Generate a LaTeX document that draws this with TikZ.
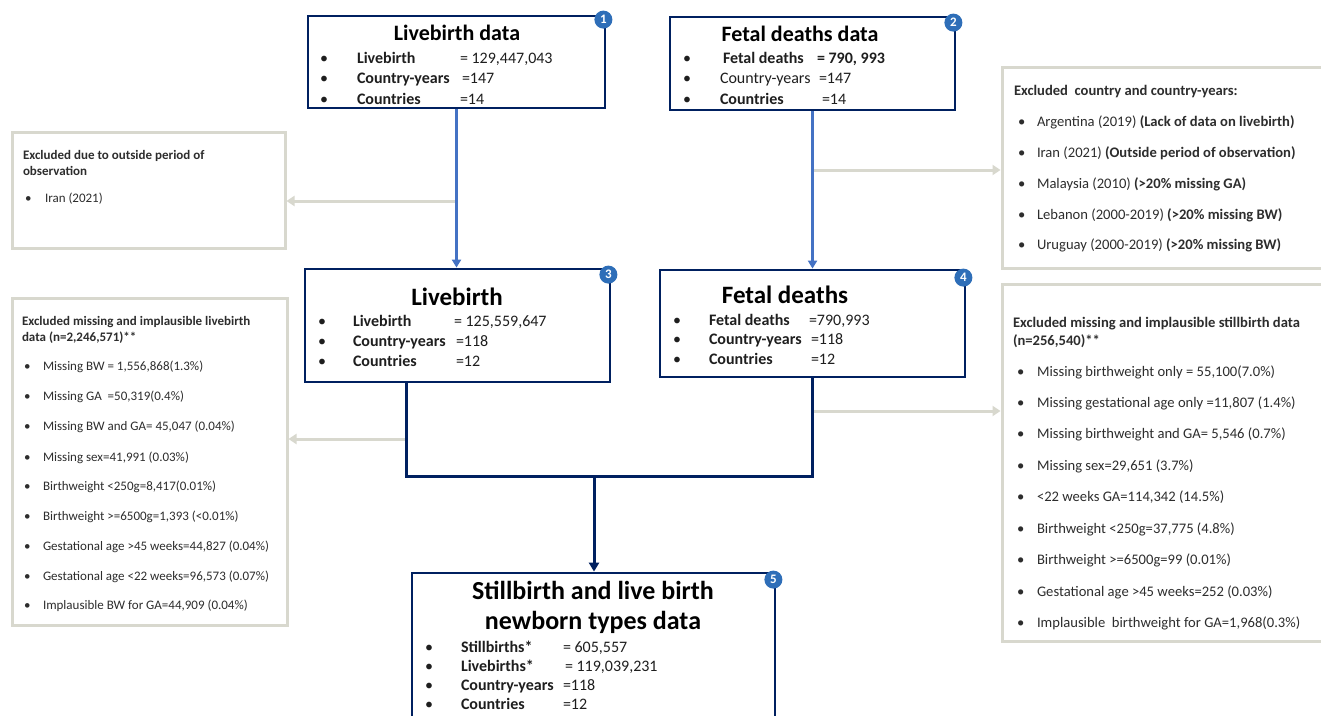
\documentclass[tikz,border=0pt]{standalone}
\usepackage{fontspec}
\setmainfont{Carlito}
\usetikzlibrary{arrows.meta,fit,calc}
\definecolor{navy}{RGB}{0,32,96}
\definecolor{lblue}{RGB}{68,114,196}
\definecolor{exgray}{RGB}{216,216,206}
\definecolor{badgeblue}{RGB}{46,110,184}
\definecolor{txtc}{RGB}{30,30,30}
\definecolor{extxt}{RGB}{45,45,45}
\newcommand\ftA{\fontsize{22}{26}\selectfont\bfseries}
\newcommand\ftB{\fontsize{25}{29}\selectfont\bfseries}
\newcommand\ftC{\fontsize{26}{30}\selectfont\bfseries}
\newcommand\fbody{\fontsize{16}{19}\selectfont}
\newcommand\fexs{\fontsize{13}{16}\selectfont}
\newcommand\fexm{\fontsize{14.6}{17}\selectfont}
\tikzset{
  mainbox/.style={draw=navy,line width=2.8pt,inner sep=0pt},
  exbox/.style={draw=exgray,line width=3pt,inner sep=0pt},
  badge/.style={circle,fill=badgeblue,text=white,inner sep=0pt,minimum size=18pt,font=\fontsize{13}{13}\selectfont\bfseries},
  t/.style={anchor=base west,inner sep=0pt,outer sep=0pt,text=txtc,font=\fbody},
  tt/.style={anchor=base,inner sep=0pt,outer sep=0pt,text=black},
  ex/.style={anchor=base west,inner sep=0pt,outer sep=0pt,text=extxt},
  grayarrow/.style={draw=exgray,line width=3pt,-{Triangle[length=8pt,width=10pt]}},
  blueline/.style={draw=lblue,line width=2.4pt,-{Triangle[length=8pt,width=9pt]}},
  navyline/.style={draw=navy,line width=3pt},
}
\begin{document}
\begin{tikzpicture}[x=1pt,y=-1pt]
\useasboundingbox (0,0) rectangle (1321,715);
\fill[white] (0,0) rectangle (1321,715);

% exclusion boxes
\node[exbox,fit={(12,132) (285,248)}] (ex1) {};
\node[exbox,fit={(1002,67) (1335,268)}] (ex2) {};
\node[exbox,fit={(12,298) (287,625)}] (ex3) {};
\node[exbox,fit={(1002,284) (1335,641)}] (ex4) {};

% main boxes
\node[mainbox,fit={(308,16) (605,108)}] (b1) {};
\node[mainbox,fit={(670,17) (955,110)}] (b2) {};
\node[mainbox,fit={(305,269) (610,382)}] (b3) {};
\node[mainbox,fit={(660,270) (965,377)}] (b4) {};
\node[mainbox,fit={(412,573) (775,745)}] (b5) {};

% junction coordinates
\coordinate (j1) at (456.5,201);
\coordinate (j2) at (812.5,170);
\coordinate (j3) at (406,439);
\coordinate (j4) at (812.5,411);
\coordinate (m1) at (406,476);
\coordinate (m2) at (812.5,476);
\coordinate (m3) at (594,476);

% gray arrows
\draw[grayarrow] (j1) -- (j1 -| ex1.east);
\draw[grayarrow] (j2) -- (j2 -| ex2.west);
\draw[grayarrow] (j3) -- (j3 -| ex3.east);
\draw[grayarrow] (j4) -- (j4 -| ex4.west);

% blue connectors
\draw[blueline] (b1.south) -- (b1.south |- b3.north);
\draw[blueline] (b2.south) -- (b2.south |- b4.north);

% navy connectors
\draw[navyline] (b3.south -| m1) -- (m1) -- (m2) -- (b4.south);
\draw[navyline,-{Triangle[length=9pt,width=10pt]}] (m3) -- (m3 |- b5.north);

% badges
\node[badge] (g1) at ($(b1.north east)+(-3,5)$) {1};
\node[badge] (g2) at ($(b2.north east)+(-3,7)$) {2};
\node[badge] (g3) at ($(b3.north east)+(-3,7)$) {3};
\node[badge] (g4) at ($(b4.north east)+(-3,9)$) {4};
\node[badge] (g5) at ($(b5.north east)+(-3,8)$) {5};

% box 1
\node[tt,font=\ftA] (b1t) at (457,40) {Livebirth data};
\node[t] (b1a0) at (320,63) {•};
\node[t,font=\fbody\bfseries] (b1a1) at (357,63) {Livebirth};
\node[t] (b1a2) at (460,63) {= 129,447,043};
\node[t] (b1b0) at (320,83.5) {•};
\node[t,font=\fbody\bfseries] (b1b1) at (357,83.5) {Country-years};
\node[t] (b1b2) at (462,83.5) {=147};
\node[t] (b1c0) at (320,104) {•};
\node[t,font=\fbody\bfseries] (b1c1) at (357,104) {Countries};
\node[t] (b1c2) at (460,104) {=14};

% box 2
\node[tt,font=\ftA] (b2t) at (800,41) {Fetal deaths data};
\node[t] (b2a0) at (683,63) {•};
\node[t,font=\fbody\bfseries] (b2a1) at (723,63) {Fetal deaths};
\node[t,font=\fbody\bfseries] (b2a2) at (817,63) {= 790, 993};
\node[t] (b2b0) at (683,83.5) {•};
\node[t] (b2b1) at (720,83.5) {Country-years};
\node[t] (b2b2) at (819,83.5) {=147};
\node[t] (b2c0) at (683,104) {•};
\node[t,font=\fbody\bfseries] (b2c1) at (720,104) {Countries};
\node[t] (b2c2) at (822,104) {=14};

% box 3
\node[tt,font=\ftB] (b3t) at (457,305) {Livebirth};
\node[t] (b3a0) at (318,326) {•};
\node[t,font=\fbody\bfseries] (b3a1) at (353,326) {Livebirth};
\node[t] (b3a2) at (454,326) {= 125,559,647};
\node[t] (b3b0) at (318,346) {•};
\node[t,font=\fbody\bfseries] (b3b1) at (353,346) {Country-years};
\node[t] (b3b2) at (456,346) {=118};
\node[t] (b3c0) at (318,366) {•};
\node[t,font=\fbody\bfseries] (b3c1) at (353,366) {Countries};
\node[t] (b3c2) at (456,366) {=12};

% box 4
\node[tt,font=\ftB] (b4t) at (785,303) {Fetal deaths};
\node[t] (b4a0) at (673,325) {•};
\node[t,font=\fbody\bfseries] (b4a1) at (709,325) {Fetal deaths};
\node[t] (b4a2) at (809,325) {=790,993};
\node[t] (b4b0) at (673,344.5) {•};
\node[t,font=\fbody\bfseries] (b4b1) at (709,344.5) {Country-years};
\node[t] (b4b2) at (811,344.5) {=118};
\node[t] (b4c0) at (673,364) {•};
\node[t,font=\fbody\bfseries] (b4c1) at (709,364) {Countries};
\node[t] (b4c2) at (811,364) {=12};

% box 5
\node[tt,font=\ftC] (b5t1) at (593,599) {Stillbirth and live birth};
\node[tt,font=\ftC] (b5t2) at (593,629) {newborn types data};
\node[t] (b5a0) at (425,652) {•};
\node[t,font=\fbody\bfseries] (b5a1) at (461,652) {Stillbirths*};
\node[t] (b5a2) at (563,652) {= 605,557};
\node[t] (b5b0) at (425,671) {•};
\node[t,font=\fbody\bfseries] (b5b1) at (461,671) {Livebirths*};
\node[t] (b5b2) at (565,671) {= 119,039,231};
\node[t] (b5c0) at (425,690) {•};
\node[t,font=\fbody\bfseries] (b5c1) at (461,690) {Country-years};
\node[t] (b5c2) at (563,690) {=118};
\node[t] (b5d0) at (425,709) {•};
\node[t,font=\fbody\bfseries] (b5d1) at (461,709) {Countries};
\node[t] (b5d2) at (563,709) {=12};

% exclusion 1
\node[ex,font=\fexs\bfseries] (e1t1) at (23,159) {Excluded due to outside period of};
\node[ex,font=\fexs\bfseries] (e1t2) at (23,175) {observation};
\node[ex,font=\fexs] (e1a0) at (25,202) {•};
\node[ex,font=\fexs] (e1a1) at (45,202) {Iran (2021)};

% exclusion 2
\node[ex,font=\fexm\bfseries] (e2t) at (1014,95) {Excluded\ \ country and country-years:};
\foreach \y/\a/\b [count=\i] in {126/{Argentina (2019)}/{(Lack of data on livebirth)},
  157/{Iran (2021)}/{(Outside period of observation)},
  188/{Malaysia (2010)}/{(>20\% missing GA)},
  219/{Lebanon (2000-2019)}/{(>20\% missing BW)},
  249/{Uruguay (2000-2019)}/{(>20\% missing BW)}}{
  \node[ex,font=\fexm] (e2b\i) at (1018,\y) {•};
  \node[ex,font=\fexm] (e2x\i) at (1037,\y) {\a\ \textbf{\b}};
}

% exclusion 3
\node[ex,font=\fexs\bfseries] (e3t1) at (22,325) {Excluded missing and implausible livebirth};
\node[ex,font=\fexs\bfseries] (e3t2) at (22,341) {data (n=2,246,571)**};
\foreach \y/\a [count=\i] in {370/{Missing BW = 1,556,868(1.3\%)},
  400/{Missing GA\ \ =50,319(0.4\%)},
  430/{Missing BW and GA= 45,047 (0.04\%)},
  461/{Missing sex=41,991 (0.03\%)},
  490/{Birthweight <250g=8,417(0.01\%)},
  520/{Birthweight >=6500g=1,393 (<0.01\%)},
  550/{Gestational age >45 weeks=44,827 (0.04\%)},
  580/{Gestational age <22 weeks=96,573 (0.07\%)},
  609/{Implausible BW for GA=44,909 (0.04\%)}}{
  \node[ex,font=\fexs] (e3b\i) at (24,\y) {•};
  \node[ex,font=\fexs] (e3x\i) at (43,\y) {\a};
}

% exclusion 4
\node[ex,font=\fexm\bfseries] (e4t1) at (1013,327) {Excluded missing and implausible stillbirth data};
\node[ex,font=\fexm\bfseries] (e4t2) at (1013,345) {(n=256,540)**};
\foreach \y/\a [count=\i] in {376/{Missing birthweight only = 55,100(7.0\%)},
  407/{Missing gestational age only =11,807 (1.4\%)},
  438/{Missing birthweight and GA= 5,546 (0.7\%)},
  470/{Missing sex=29,651 (3.7\%)},
  501/{<22 weeks GA=114,342 (14.5\%)},
  533/{Birthweight <250g=37,775 (4.8\%)},
  564/{Birthweight >=6500g=99 (0.01\%)},
  596/{Gestational age >45 weeks=252 (0.03\%)},
  627/{Implausible\ \ birthweight for GA=1,968(0.3\%)}}{
  \node[ex,font=\fexm] (e4b\i) at (1017,\y) {•};
  \node[ex,font=\fexm] (e4x\i) at (1037,\y) {\a};
}
\end{tikzpicture}
\end{document}
